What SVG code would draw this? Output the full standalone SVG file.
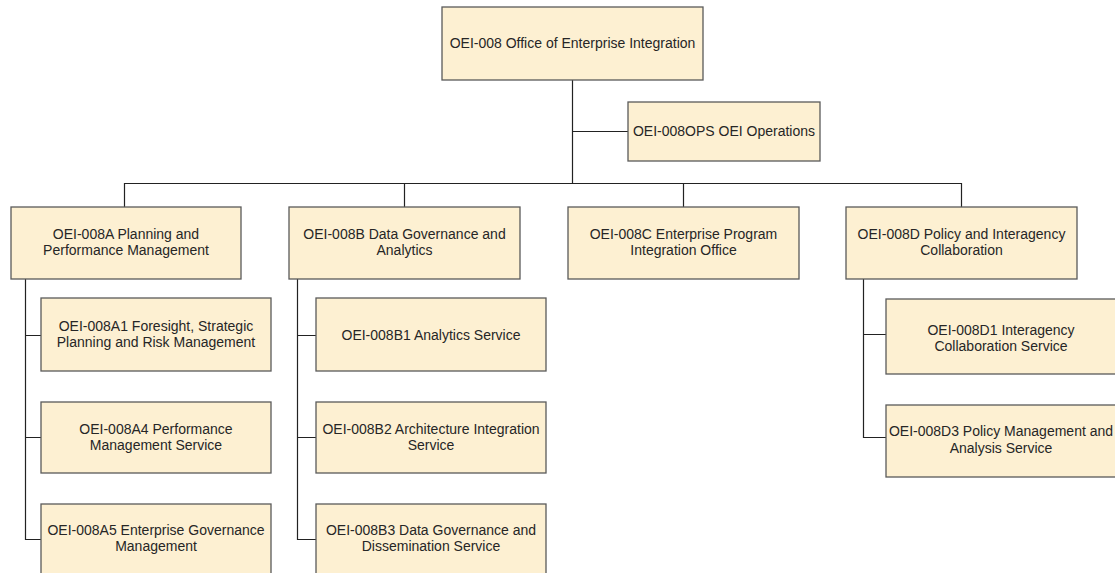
<svg xmlns="http://www.w3.org/2000/svg" width="1115" height="573" viewBox="0 0 1115 573">
<style>
.box{fill:#FDF0D2;stroke:#5a5a5a;stroke-width:1.3}
.t{font-family:"Liberation Sans",Arial,sans-serif;font-size:14px;fill:#262626;text-anchor:middle}
.c{stroke:#222;stroke-width:1.2;fill:none}
</style>
<rect width="1115" height="573" fill="#fff"/>
<g id="connectors">
<path class="c" d="M572.5 80V183M572.5 131.5H628M124.5 207V183.5H961.5V207M404.5 183.5V207M683.5 183.5V207"/>
<path class="c" d="M25.5 279V539.5H41M25.5 335.5H41M25.5 437.5H41"/>
<path class="c" d="M297.5 279V539.5H316M297.5 335.5H316M297.5 437.5H316"/>
<path class="c" d="M863.5 279V437.5H886M863.5 334.5H886"/>
</g>
<g id="n-root"><rect class="box" x="442" y="7" width="261" height="73"/><text class="t" x="572.5" y="48">OEI-008 Office of Enterprise Integration</text></g>
<g id="n-ops"><rect class="box" x="628" y="102" width="192" height="59"/><text class="t" x="724" y="136">OEI-008OPS OEI Operations</text></g>
<g id="n-a"><rect class="box" x="11" y="207" width="230" height="72"/><text class="t" x="126" y="238.5">OEI-008A Planning and</text><text class="t" x="126" y="255">Performance Management</text></g>
<g id="n-b"><rect class="box" x="289" y="207" width="231" height="72"/><text class="t" x="404.5" y="238.5">OEI-008B Data Governance and</text><text class="t" x="404.5" y="255">Analytics</text></g>
<g id="n-c"><rect class="box" x="568" y="207" width="231" height="72"/><text class="t" x="683.5" y="238.5">OEI-008C Enterprise Program</text><text class="t" x="683.5" y="255">Integration Office</text></g>
<g id="n-d"><rect class="box" x="846" y="207" width="231" height="72"/><text class="t" x="961.5" y="238.5">OEI-008D Policy and Interagency</text><text class="t" x="961.5" y="255">Collaboration</text></g>
<g id="n-a1"><rect class="box" x="41" y="298" width="230" height="73"/><text class="t" x="156" y="331">OEI-008A1 Foresight, Strategic</text><text class="t" x="156" y="347">Planning and Risk Management</text></g>
<g id="n-a4"><rect class="box" x="41" y="402" width="230" height="71"/><text class="t" x="156" y="433.5">OEI-008A4 Performance</text><text class="t" x="156" y="449.5">Management Service</text></g>
<g id="n-a5"><rect class="box" x="41" y="504" width="230" height="80"/><text class="t" x="156" y="535">OEI-008A5 Enterprise Governance</text><text class="t" x="156" y="551">Management</text></g>
<g id="n-b1"><rect class="box" x="316" y="298" width="230" height="73"/><text class="t" x="431" y="339.5">OEI-008B1 Analytics Service</text></g>
<g id="n-b2"><rect class="box" x="316" y="402" width="230" height="71"/><text class="t" x="431" y="433.5">OEI-008B2 Architecture Integration</text><text class="t" x="431" y="449.5">Service</text></g>
<g id="n-b3"><rect class="box" x="316" y="504" width="230" height="80"/><text class="t" x="431" y="535">OEI-008B3 Data Governance and</text><text class="t" x="431" y="551">Dissemination Service</text></g>
<g id="n-d1"><rect class="box" x="886" y="299" width="232" height="75"/><text class="t" x="1001" y="334.5">OEI-008D1 Interagency</text><text class="t" x="1001" y="351">Collaboration Service</text></g>
<g id="n-d3"><rect class="box" x="886" y="405" width="232" height="72"/><text class="t" x="1001" y="436">OEI-008D3 Policy Management and</text><text class="t" x="1001" y="452.5">Analysis Service</text></g>
</svg>
